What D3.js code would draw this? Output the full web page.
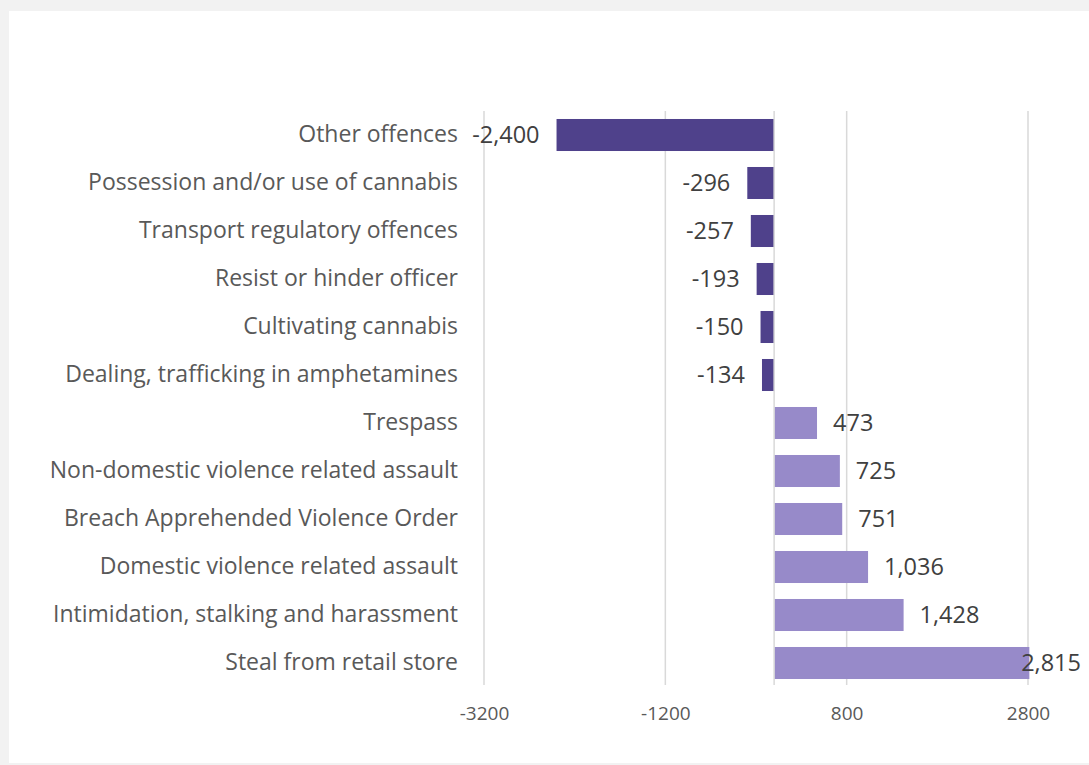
<!DOCTYPE html>
<html>
<head>
<meta charset="utf-8">
<script src="https://cdn.jsdelivr.net/npm/d3@7"></script>
<style>
  body { margin: 0; background: #f2f2f2; }
  #chart { position: absolute; left: 9px; top: 11px; width: 1080px; height: 752px; background: #fff; }
  text { font-family: "Open Sans", Lato, sans-serif; }
</style>
</head>
<body>
<div id="chart"></div>
<script>
// categories, top to bottom
var categories = [
  "Other offences",
  "Possession and/or use of cannabis",
  "Transport regulatory offences",
  "Resist or hinder officer",
  "Cultivating cannabis",
  "Dealing, trafficking in amphetamines",
  "Trespass",
  "Non-domestic violence related assault",
  "Breach Apprehended Violence Order",
  "Domestic violence related assault",
  "Intimidation, stalking and harassment",
  "Steal from retail store"
];
var values = [-2400, -296, -257, -193, -150, -134, 473, 725, 751, 1036, 1428, 2815];
var tickValues = [-3200, -1200, 800, 2800];

(function () {
var width = 1080, height = 752;
// plot area inside the white card
var plotLeft = 475, plotRight = 1019, plotTop = 100, plotBottom = 676;

// plain hyphen minus like the original
var locale = d3.formatLocale({ decimal: ".", thousands: ",", grouping: [3], currency: ["$", ""], minus: "-" });
var fmt = locale.format(",");
var tickFmt = locale.format("d");

var svg = d3.select("#chart").append("svg")
    .attr("width", width)
    .attr("height", height);

var x = d3.scaleLinear()
    .domain([-3200, 2800])
    .range([plotLeft, plotRight]);

var y = d3.scaleBand()
    .domain(categories)
    .range([plotTop, plotBottom])
    .paddingInner(0.333)
    .paddingOuter(0.1665);

//gridlines
svg.append("g")
    .selectAll("line")
    .data(tickValues)
    .enter().append("line")
    .attr("x1", function (d) { return x(d); })
    .attr("x2", function (d) { return x(d); })
    .attr("y1", plotTop)
    .attr("y2", plotBottom - 2)
    .attr("stroke", "#d9d9d9")
    .attr("stroke-width", 1.5);

//bars
svg.append("g")
    .selectAll("rect")
    .data(values)
    .enter().append("rect")
    .attr("x", function (d) { return x(Math.min(0, d)); })
    .attr("width", function (d) { return Math.abs(x(d) - x(0)); })
    .attr("y", function (d, i) { return y(categories[i]); })
    .attr("height", y.bandwidth())
    .attr("fill", function (d) { return d < 0 ? "#4f418b" : "#978ac9"; });

//zero axis line
svg.append("line")
    .attr("x1", x(0)).attr("x2", x(0))
    .attr("y1", plotTop).attr("y2", plotBottom - 2)
    .attr("stroke", "#d9d9d9")
    .attr("stroke-width", 1.5);

//x axis labels
var xAxis = d3.axisBottom(x)
    .tickValues(tickValues)
    .tickFormat(tickFmt)
    .tickSize(0)
    .tickPadding(0);
var gx = svg.append("g")
    .attr("transform", "translate(0," + (plotBottom + 26) + ")")
    .call(xAxis);
gx.select(".domain").remove();
gx.selectAll("text")
    .attr("dy", "0.35em")
    .attr("y", 0)
    .attr("fill", "#595959")
    .style("font-size", "19px");

//category labels
var yAxis = d3.axisLeft(y).tickSize(0).tickPadding(0);
var gy = svg.append("g")
    .attr("transform", "translate(" + (plotLeft - 26) + ",0)")
    .call(yAxis);
gy.select(".domain").remove();
gy.selectAll("text")
    .attr("fill", "#595959")
    .style("font-size", "23px");

//value labels
svg.append("g")
    .selectAll("text")
    .data(values)
    .enter().append("text")
    .attr("x", function (d) {
      if (d < 0) return x(d) - 17;
      return x(d) + 15 > width - 70 ? width - 8 : x(d) + 16;
    })
    .attr("text-anchor", function (d) {
      if (d < 0) return "end";
      return x(d) + 15 > width - 70 ? "end" : "start";
    })
    .attr("y", function (d, i) { return y(categories[i]) + y.bandwidth() / 2; })
    .attr("dy", "0.35em")
    .attr("fill", "#404040")
    .style("font-size", "23.5px")
    .text(function (d) { return fmt(d); });
})();
</script>
</body>
</html>
